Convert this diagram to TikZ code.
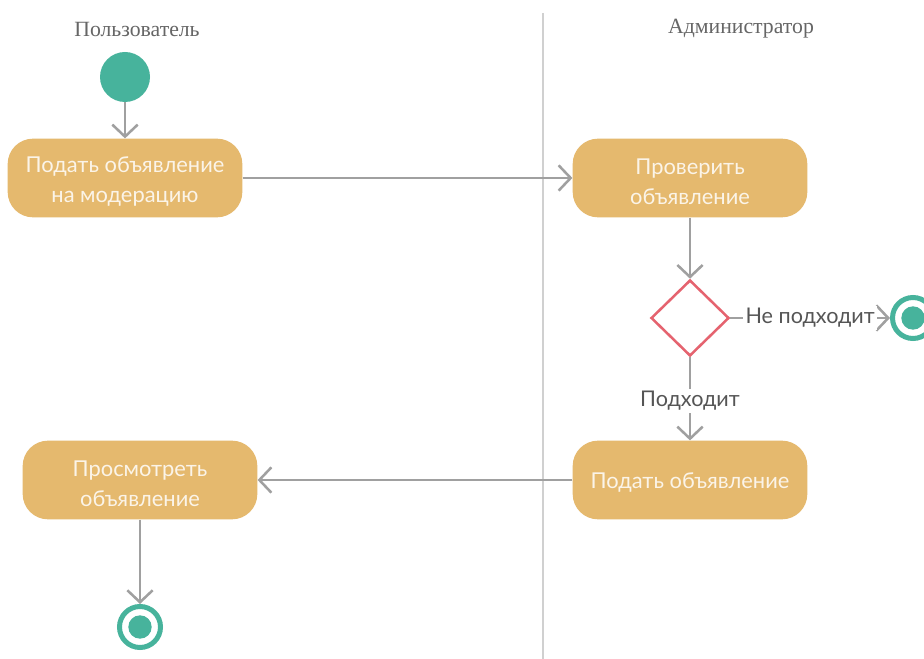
\documentclass[tikz,border=0pt]{standalone}
\usepackage{fontspec}
\setmainfont{Lato}
\newfontfamily\headfont{Liberation Serif}
\usetikzlibrary{arrows.meta,shapes.geometric}

\definecolor{actfill}{HTML}{E5B96E}
\definecolor{acttext}{HTML}{FBF4E8}
\definecolor{teal}{HTML}{47B39C}
\definecolor{decred}{HTML}{E5636F}
\definecolor{flowgray}{HTML}{A0A0A0}
\definecolor{lanegray}{HTML}{D0D0D0}
\definecolor{headgray}{HTML}{666666}
\definecolor{labelgray}{HTML}{555555}

\tikzset{
  activity/.style={rectangle, rounded corners=19pt, fill=actfill,
    minimum width=176pt, minimum height=59pt, inner sep=0pt},
  acttitle/.style={text=acttext, align=center, inner sep=0pt,
    font=\fontsize{16.4}{22.5}\selectfont},
  startnode/.style={circle, fill=teal, minimum size=37.5pt, inner sep=0pt},
  endring/.style={circle, draw=teal, line width=3.75pt, fill=white, minimum size=30.75pt, inner sep=0pt},
  enddot/.style={circle, fill=teal, minimum size=17.5pt, inner sep=0pt},
  decision/.style={diamond, draw=decred, line width=1.9pt, fill=white,
    minimum width=58.5pt, minimum height=57pt, inner sep=0pt},
  flow/.style={draw=flowgray, line width=1.9pt,
    -{Straight Barb[length=9pt, width=19pt, line width=1.9pt]}},
  guard/.style={fill=white, text=labelgray, inner sep=2pt,
    font=\fontsize{16.2}{19}\selectfont},
  lanehead/.style={text=headgray, font=\headfont\fontsize{16.3}{19}\selectfont},
}

\begin{document}
\begin{tikzpicture}[x=0.75pt, y=-0.75pt]
\useasboundingbox (0,0) rectangle (924,659);
\fill[white] (0,0) rectangle (924,659);

% swimlane divider and headers
\coordinate (laneTop) at (543,13);
\coordinate (laneBot) at (543,659);
\draw[lanegray, line width=1pt] (laneTop) -- (laneBot);
\node[lanehead] (hUser) at (137,29) {Пользователь};
\node[lanehead] (hAdmin) at (741,29) {Администратор};

% activity boxes with their titles set slightly below centre
\node[activity] (submit) at (125,178) {};
\node[acttitle] (submitT) at ([yshift=-2.7pt]submit.center) {Подать объявление\\на модерацию};
\node[activity] (check) at (690,178) {};
\node[acttitle] (checkT) at ([yshift=-2.7pt]check.center) {Проверить\\объявление};
\node[activity] (publish) at (690,480) {};
\node[acttitle] (publishT) at ([yshift=-2.2pt]publish.center) {Подать объявление};
\node[activity] (view) at (140,480) {};
\node[acttitle] (viewT) at ([yshift=-2.7pt]view.center) {Просмотреть\\объявление};

% control nodes
\node[startnode] (start) at (125,77) {};
\node[decision] (dec) at (690,318) {};
\node[endring] (endR) at (913,318) {};
\node[enddot] (endRdot) at (913,318) {};
\node[endring] (endB) at (140,627) {};
\node[enddot] (endBdot) at (140,627) {};

% flows
\draw[flow] (start) -- (submit);
\draw[flow] (submit) -- (check);
\draw[flow] (check) -- (dec);
\draw[flow] (dec) -- node[guard] {Не подходит} (endR);
\draw[flow] (dec) -- node[guard, yshift=-1.5pt] {Подходит} (publish);
\draw[flow] (publish) -- (view);
\draw[flow] (view) -- (endB);
\end{tikzpicture}
\end{document}
